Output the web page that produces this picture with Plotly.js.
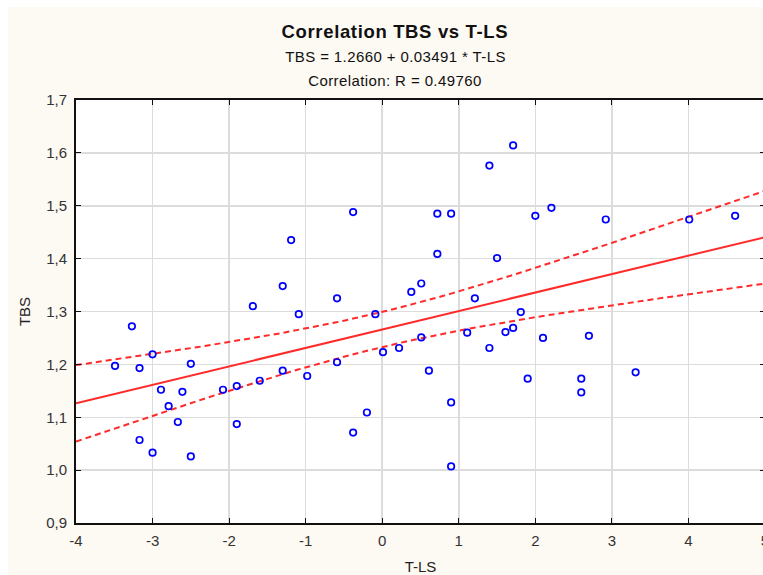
<!DOCTYPE html>
<html>
<head>
<meta charset="utf-8">
<script src="https://cdn.plot.ly/plotly-3.0.1.min.js"></script>
<style>
html, body { margin:0; padding:0; overflow:hidden; background:#ffffff; width:763px; height:575px; }
#bg { position:absolute; left:8px; top:7px; width:800px; height:600px; background:#fdf9f3; }
#chart { position:absolute; left:0; top:0; width:770px; height:575px; }
</style>
</head>
<body>
<div id="bg"></div>
<div id="chart"></div>
<script>
// T-LS values (x)
const tls = [-3.49,-3.27,-3.17,-3.17,-3.00,-3.00,-2.89,-2.79,-2.67,-2.61,-2.50,-2.50,
  -2.08,-1.90,-1.90,-1.69,-1.60,-1.30,-1.30,-1.19,-1.09,-0.98,-0.59,-0.59,-0.38,-0.38,
  -0.20,-0.09,0.01,0.22,0.38,0.51,0.51,0.61,0.72,0.72,0.90,0.90,0.90,1.11,1.21,1.40,1.40,
  1.50,1.61,1.71,1.71,1.81,1.90,2.00,2.10,2.21,2.60,2.60,2.70,2.92,3.31,4.01,4.61];
// TBS values (y)
const tbs = [1.197,1.272,1.193,1.057,1.219,1.033,1.152,1.121,1.091,1.148,1.201,1.026,
  1.152,1.159,1.087,1.310,1.169,1.348,1.188,1.435,1.295,1.178,1.325,1.204,1.488,1.071,
  1.109,1.295,1.223,1.231,1.337,1.353,1.251,1.188,1.485,1.409,1.485,1.128,1.007,1.260,1.325,1.576,1.231,
  1.401,1.261,1.614,1.269,1.299,1.173,1.481,1.250,1.496,1.173,1.147,1.254,1.474,1.185,1.474,1.481];

const intercept = 1.2660;
const slope = 0.03491;
const xTickVals = [-4,-3,-2,-1,0,1,2,3,4,5];
const xTickText = ['-4','-3','-2','-1','0','1','2','3','4','5'];
const yTickVals = [0.9,1.0,1.1,1.2,1.3,1.4,1.5,1.6,1.7];
const yTickText = ['0,9','1,0','1,1','1,2','1,3','1,4','1,5','1,6','1,7'];

// regression line and 95% confidence band for the mean, from the data
const n = tls.length;
const xbar = tls.reduce((a,b)=>a+b,0)/n;
let sxx = 0, sse = 0;
for (let i=0;i<n;i++){ sxx += (tls[i]-xbar)**2; const r = tbs[i]-(intercept+slope*tls[i]); sse += r*r; }
const s = Math.sqrt(sse/(n-2));
const tcrit = 2.0025;
const gx = [], gy = [], gu = [], gl = [];
for (let k=0;k<=90;k++){
  const x0 = -4 + k*0.1;
  const yh = intercept + slope*x0;
  const h = tcrit*s*Math.sqrt(1/n + (x0-xbar)**2/sxx);
  gx.push(x0); gy.push(yh); gu.push(yh+h); gl.push(yh-h);
}

const red = '#ff2a2a';
const traces = [
  {x:gx, y:gu, mode:'lines', line:{color:red, width:2, dash:'6px,4px'}, hoverinfo:'skip'},
  {x:gx, y:gl, mode:'lines', line:{color:red, width:2, dash:'6px,4px'}, hoverinfo:'skip'},
  {x:gx, y:gy, mode:'lines', line:{color:red, width:2}, hoverinfo:'skip'},
  {x:tls, y:tbs, mode:'markers', marker:{symbol:'circle-open', size:6.5, color:'#0000ff', line:{width:1.7, color:'#0000ff'}}}
];

const fontFam = '"Liberation Sans", Arial, sans-serif';
const layout = {
  width:770, height:575,
  margin:{l:76, r:4.6, t:100, b:52.3},
  paper_bgcolor:'rgba(0,0,0,0)',
  plot_bgcolor:'#ffffff',
  showlegend:false,
  font:{family:fontFam, size:15, color:'#333'},
  xaxis:{range:[-4,5], tickvals:xTickVals, ticktext:xTickText, showgrid:true, gridcolor:'#dcdcdc', gridwidth:1.5,
    zeroline:false, showline:true, linecolor:'#111', linewidth:2, mirror:'ticks', ticks:'inside', ticklen:5, tickcolor:'#111',
    ticklabelstandoff:3,
    tickfont:{size:15, color:'#333'}, title:{text:'T-LS', font:{size:15, color:'#222'}, standoff:14}},
  yaxis:{range:[0.9,1.7], tickvals:yTickVals, ticktext:yTickText, showgrid:true, gridcolor:'#dcdcdc', gridwidth:1.5,
    zeroline:false, showline:true, linecolor:'#111', linewidth:2, mirror:'ticks', ticks:'inside', ticklen:5, tickcolor:'#111',
    ticklabelstandoff:4,
    tickfont:{size:15, color:'#333'}, title:{text:'TBS', font:{size:15, color:'#222'}, standoff:12}},
  annotations:[
    {xref:'paper', yref:'paper', x:0.463, y:1.162, yanchor:'middle', showarrow:false,
      text:'<b>Correlation TBS vs T-LS</b>', font:{size:18.5, color:'#111'}},
    {xref:'paper', yref:'paper', x:0.463, y:1.103, yanchor:'middle', showarrow:false,
      text:'TBS = 1.2660 + 0.03491 * T-LS', font:{size:15, color:'#111'}},
    {xref:'paper', yref:'paper', x:0.463, y:1.045, yanchor:'middle', showarrow:false,
      text:'Correlation: R = 0.49760', font:{size:15, color:'#111'}}
  ]
};
Plotly.newPlot('chart', traces, layout, {displayModeBar:false, staticPlot:true}).then(function(gd){
  const spacing = ['0.65px','0.4px','0.4px'];
  gd.querySelectorAll('.annotation-text').forEach(function(t, i){ t.style.letterSpacing = spacing[i] || '0px'; });
});
</script>
</body>
</html>
